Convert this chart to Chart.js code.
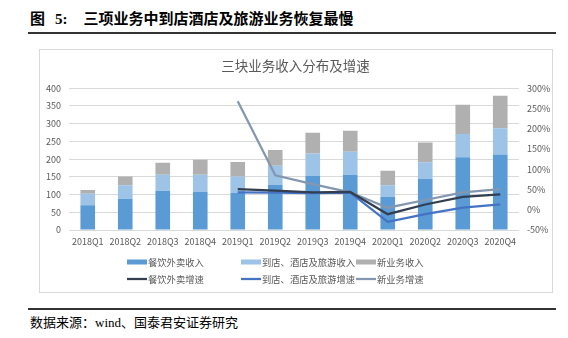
<!DOCTYPE html>
<html>
<head>
<meta charset="utf-8">
<script src="https://cdn.jsdelivr.net/npm/chart.js@4.4.0/dist/chart.umd.min.js"></script>
<style>
  body { margin: 0; width: 568px; height: 338px; background: #fff; position: relative; overflow: hidden; }
  #figTitle { position: absolute; left: 30px; top: 9px; font: bold 15px 'Liberation Serif', 'Noto Sans CJK SC', serif; line-height: 20px; color: #000; white-space: nowrap; }
  #figTitle .num { margin-left: 10px; }
  #figTitle .txt { margin-left: 16px; }
  .rule { position: absolute; left: 28px; width: 528px; height: 1.5px; background: #333; }
  #frame { position: absolute; left: 39px; top: 49px; width: 512px; height: 242px; border: 1px solid #d9d9d9; }
  #box { position: absolute; left: 40px; top: 50px; width: 511px; height: 241px; }
  #source { position: absolute; left: 30px; top: 315px; font: 13px 'Liberation Serif', 'Noto Sans CJK SC', serif; line-height: 16px; color: #000; white-space: nowrap; }
</style>
</head>
<body>
<div id="figTitle">图<span class="num">5:</span><span class="txt">三项业务中到店酒店及旅游业务恢复最慢</span></div>
<div class="rule" style="top:32px"></div>
<div id="frame"></div>
<div id="box"><canvas id="grafico"></canvas></div>
<div class="rule" style="top:308px"></div>
<div id="source">数据来源：wind、国泰君安证券研究</div>
<script>
// Trimestres
var trimestres = ['2018Q1', '2018Q2', '2018Q3', '2018Q4', '2019Q1', '2019Q2', '2019Q3', '2019Q4', '2020Q1', '2020Q2', '2020Q3', '2020Q4'];
// Ingresos por negocio (barras apiladas, eje izquierdo)
var ingresoWaimai = [70, 88, 111, 108, 105, 127, 153, 155, 94, 144, 205, 213];
var ingresoDaodian = [32, 38, 45, 48, 46, 54, 63, 66, 32, 47, 66, 74];
var ingresoNuevo = [11, 25, 34, 42, 41, 45, 58, 59, 41, 56, 82, 92];
// Crecimiento en % (lineas, eje derecho)
var crecWaimai = [null, null, null, null, 51, 47, 43, 44, -11, 13, 32, 38];
var crecDaodian = [null, null, null, null, 43, 42, 41, 42, -30, -11, 5, 13];
var crecNuevo = [null, null, null, null, 268, 85, 63, 43, 5, 24, 43, 51];

Chart.defaults.font.family = "'Noto Sans CJK SC', sans-serif";
Chart.defaults.font.size = 9;
Chart.defaults.color = '#595959';

// Leyenda en cuadricula 3x2 (barras arriba, lineas abajo)
var leyendaGrid = {
  id: 'leyendaGrid',
  afterDraw: function (chart) {
    var ctx = chart.ctx;
    var cols = [87, 201, 316];
    var filas = [212, 229];
    chart.data.datasets.forEach(function (ds, i) {
      var x = cols[i % 3], y = filas[Math.floor(i / 3)];
      ctx.save();
      if (ds.type === 'line') {
        ctx.strokeStyle = ds.borderColor;
        ctx.lineWidth = 2.25;
        ctx.beginPath();
        ctx.moveTo(x, y);
        ctx.lineTo(x + 20, y);
        ctx.stroke();
      } else {
        ctx.fillStyle = ds.backgroundColor;
        ctx.fillRect(x, y - 2.5, 20, 5);
      }
      ctx.fillStyle = '#595959';
      ctx.font = "9.3px 'Noto Sans CJK SC'";
      ctx.textBaseline = 'middle';
      ctx.fillText(ds.label, x + 21, y);
      ctx.restore();
    });
  }
};

var ctx = document.getElementById('grafico').getContext('2d');
var grafico = new Chart(ctx, {
  type: 'bar',
  data: {
    labels: trimestres,
    datasets: [
      { label: '餐饮外卖收入', data: ingresoWaimai, backgroundColor: '#5b9bd5', yAxisID: 'y', order: 2 },
      { label: '到店、酒店及旅游收入', data: ingresoDaodian, backgroundColor: '#9dc3e6', yAxisID: 'y', order: 2 },
      { label: '新业务收入', data: ingresoNuevo, backgroundColor: '#b0b0b0', yAxisID: 'y', order: 2 },
      { type: 'line', label: '餐饮外卖增速', data: crecWaimai, borderColor: '#333f50', yAxisID: 'y1', order: 1 },
      { type: 'line', label: '到店、酒店及旅游增速', data: crecDaodian, borderColor: '#4472c4', yAxisID: 'y1', order: 1 },
      { type: 'line', label: '新业务增速', data: crecNuevo, borderColor: '#8497b0', yAxisID: 'y1', order: 1 }
    ]
  },
  options: {
    responsive: true,
    maintainAspectRatio: false,
    animation: false,
    categoryPercentage: 1,
    barPercentage: 0.39,
    elements: {
      line: { borderWidth: 2.25, tension: 0, fill: false },
      point: { radius: 0 }
    },
    layout: { padding: { left: 0, right: 0, top: 0, bottom: 0 } },
    plugins: {
      legend: { display: false },
      tooltip: { enabled: false },
      title: {
        display: true,
        text: '三块业务收入分布及增速',
        color: '#595959',
        font: { size: 13.5, weight: 'normal' },
        padding: { top: 8, bottom: 14 }
      }
    },
    scales: {
      x: {
        stacked: true,
        grid: { display: false, drawTicks: false },
        border: { display: false },
        ticks: { padding: 6, maxRotation: 0, autoSkip: false },
        afterFit: function (s) { s.height = 61; }
      },
      y: {
        stacked: true,
        position: 'left',
        min: 0, max: 400,
        ticks: { stepSize: 50, padding: 8 },
        grid: { color: '#d9d9d9', drawTicks: false },
        border: { display: false },
        afterFit: function (s) { s.width = 29; }
      },
      y1: {
        position: 'right',
        min: -50, max: 300,
        ticks: { stepSize: 50, padding: 8, callback: function (v) { return v + '%'; } },
        grid: { display: false, drawTicks: false },
        border: { display: false },
        afterFit: function (s) { s.width = 32; }
      }
    }
  },
  plugins: [leyendaGrid]
});
</script>
</body>
</html>
